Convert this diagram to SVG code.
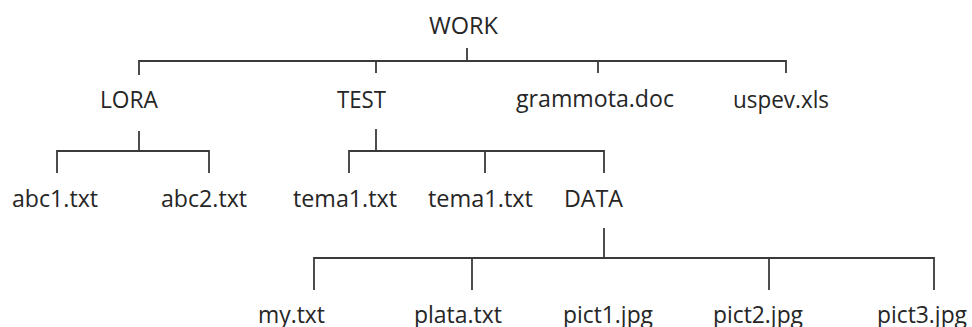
<svg xmlns="http://www.w3.org/2000/svg" width="972" height="327" viewBox="0 0 972 327">
<style>
text{font-family:"Open Sans","Noto Sans","Liberation Sans",sans-serif;font-size:23px;font-weight:500;fill:#262626;}
.c path{fill:none;stroke:#3a3a3a;stroke-width:1.8;stroke-linejoin:miter;}
</style>
<rect width="972" height="327" fill="#ffffff"/>
<g class="c" id="connectors">
<path d="M467 48V61"/>
<path d="M139 75V61H786V73"/>
<path d="M376 61V73"/>
<path d="M598 61V73"/>
<path d="M139 131V151"/>
<path d="M57 173V151H209V173"/>
<path d="M376 129V151"/>
<path d="M349 173V151H604V173"/>
<path d="M485 151V173"/>
<path d="M604 228V258"/>
<path d="M314 290V258H934V290"/>
<path d="M472 258V290"/>
<path d="M769 258V290"/>
</g>
<g id="n-work"><text x="429" y="34" textLength="69" lengthAdjust="spacingAndGlyphs">WORK</text></g>
<g id="n-lora"><text x="100" y="108" textLength="58" lengthAdjust="spacingAndGlyphs">LORA</text></g>
<g id="n-test"><text x="337" y="108" textLength="49" lengthAdjust="spacingAndGlyphs">TEST</text></g>
<g id="n-grammota"><text x="516" y="107" textLength="158" lengthAdjust="spacingAndGlyphs">grammota.doc</text></g>
<g id="n-uspev"><text x="733" y="108" textLength="96" lengthAdjust="spacingAndGlyphs">uspev.xls</text></g>
<g id="n-abc1"><text x="12" y="207" textLength="86" lengthAdjust="spacingAndGlyphs">abc1.txt</text></g>
<g id="n-abc2"><text x="161" y="207" textLength="86" lengthAdjust="spacingAndGlyphs">abc2.txt</text></g>
<g id="n-tema1a"><text x="293" y="207" textLength="104" lengthAdjust="spacingAndGlyphs">tema1.txt</text></g>
<g id="n-tema1b"><text x="428" y="207" textLength="105" lengthAdjust="spacingAndGlyphs">tema1.txt</text></g>
<g id="n-data"><text x="564" y="207" textLength="59" lengthAdjust="spacingAndGlyphs">DATA</text></g>
<g id="n-my"><text x="258" y="323" textLength="67" lengthAdjust="spacingAndGlyphs">my.txt</text></g>
<g id="n-plata"><text x="414" y="323" textLength="88" lengthAdjust="spacingAndGlyphs">plata.txt</text></g>
<g id="n-pict1"><text x="563" y="323" textLength="90" lengthAdjust="spacingAndGlyphs">pict1.jpg</text></g>
<g id="n-pict2"><text x="713" y="323" textLength="90" lengthAdjust="spacingAndGlyphs">pict2.jpg</text></g>
<g id="n-pict3"><text x="877" y="323" textLength="90" lengthAdjust="spacingAndGlyphs">pict3.jpg</text></g>
</svg>
